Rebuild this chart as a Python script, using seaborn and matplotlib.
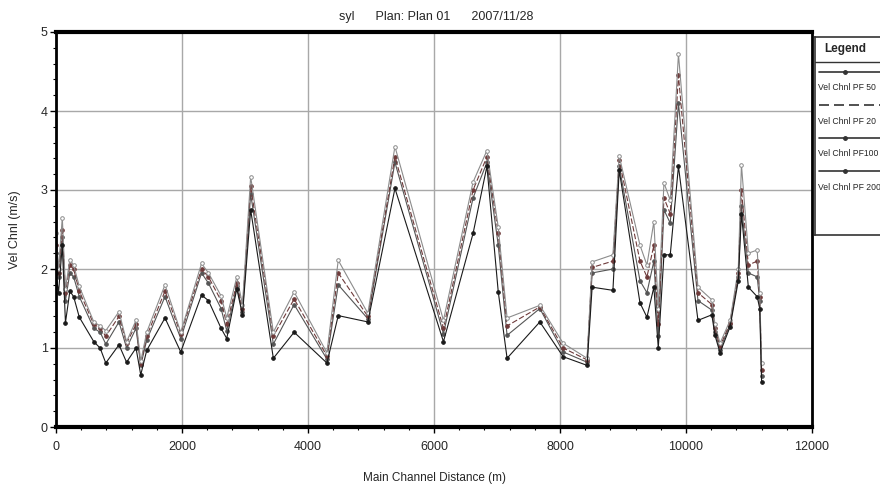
import numpy as np
import pandas as pd
import matplotlib
matplotlib.use("Agg")
import matplotlib.pyplot as plt
import seaborn as sns
from matplotlib.ticker import MultipleLocator

# ================================================================
stations = [0, 40, 100, 150, 220, 280, 370, 600, 700, 790, 1000, 1120, 1270, 1345,
            1440, 1730, 1980, 2310, 2420, 2620, 2710, 2870, 2960, 3090, 3450, 3780,
            4300, 4480, 4950, 5380, 6150, 6620, 6840, 7020, 7160, 7680, 8050, 8430,
            8510, 8840, 8940, 9270, 9380, 9490, 9560, 9650, 9750, 9880, 10190, 10410,
            10460, 10540, 10700, 10830, 10880, 10990, 11130, 11170, 11200]

vel_pf_top = [2.45, 2.00, 2.65, 1.75, 2.12, 2.05, 1.78, 1.33, 1.28, 1.22, 1.46, 1.08, 1.35, 0.83,
              1.20, 1.80, 1.20, 2.07, 1.95, 1.66, 1.38, 1.90, 1.55, 3.17, 1.20, 1.71,
              0.94, 2.11, 1.44, 3.55, 1.35, 3.10, 3.50, 2.53, 1.38, 1.54, 1.06, 0.87,
              2.09, 2.18, 3.43, 2.30, 2.05, 2.60, 1.50, 3.09, 2.87, 4.72, 1.77, 1.61,
              1.30, 1.06, 1.35, 2.00, 3.32, 2.20, 2.24, 1.70, 0.81]
vel_pf_dash = [2.30, 1.95, 2.50, 1.70, 2.05, 2.00, 1.72, 1.30, 1.25, 1.15, 1.40, 1.06, 1.30, 0.80,
               1.15, 1.72, 1.18, 2.00, 1.90, 1.60, 1.30, 1.82, 1.50, 3.05, 1.15, 1.62,
               0.90, 1.95, 1.40, 3.42, 1.25, 3.00, 3.42, 2.45, 1.28, 1.52, 1.00, 0.85,
               2.02, 2.10, 3.38, 2.10, 1.90, 2.30, 1.30, 2.90, 2.70, 4.45, 1.70, 1.55,
               1.25, 1.02, 1.32, 1.95, 3.00, 2.05, 2.10, 1.65, 0.72]
vel_pf_mid = [2.20, 1.90, 2.40, 1.60, 1.95, 1.90, 1.65, 1.25, 1.20, 1.05, 1.33, 1.00, 1.25, 0.78,
              1.10, 1.65, 1.12, 1.95, 1.82, 1.50, 1.22, 1.78, 1.45, 2.95, 1.05, 1.55,
              0.86, 1.80, 1.37, 3.35, 1.18, 2.90, 3.35, 2.30, 1.16, 1.50, 0.95, 0.82,
              1.95, 2.00, 3.30, 1.85, 1.70, 2.10, 1.15, 2.75, 2.58, 4.10, 1.60, 1.48,
              1.20, 0.98, 1.30, 1.90, 2.80, 1.95, 1.90, 1.60, 0.65]
vel_pf_low = [1.95, 1.70, 2.30, 1.32, 1.72, 1.65, 1.39, 1.08, 1.00, 0.81, 1.04, 0.82, 1.00, 0.66,
              0.97, 1.38, 0.95, 1.67, 1.60, 1.25, 1.12, 1.75, 1.42, 2.75, 0.87, 1.20,
              0.81, 1.41, 1.33, 3.02, 1.08, 2.45, 3.30, 1.71, 0.87, 1.33, 0.89, 0.78,
              1.77, 1.73, 3.25, 1.57, 1.39, 1.77, 1.00, 2.18, 2.18, 3.30, 1.35, 1.42,
              1.16, 0.94, 1.27, 1.85, 2.70, 1.77, 1.65, 1.50, 0.57]

labels = ["Vel Chnl PF 50", "Vel Chnl PF 20", "Vel Chnl PF100", "Vel Chnl PF 200"]
title = "syl      Plan: Plan 01      2007/11/28"
# ================================================================

sns.set_theme(style="white")
plt.rcParams["font.family"] = ["Liberation Sans Narrow", "Liberation Sans", "DejaVu Sans"]

fig = plt.figure(figsize=(8.8, 4.95), dpi=100)
ax = fig.add_axes([56 / 880, 68 / 495, 756 / 880, 395 / 495])

# series: values, colour, dash, marker face
series = [
    (vel_pf_mid, "#555555", "-", "#555555"),
    (vel_pf_dash, "#6e3a3a", (0, (5, 2)), "#6e3a3a"),
    (vel_pf_top, "#8c8c8c", "-", "white"),
    (vel_pf_low, "#1a1a1a", "-", "#1a1a1a"),
]
for vals, col, ls, mfc in series:
    sns.lineplot(ax=ax, x=stations, y=vals, color=col, linestyle=ls, lw=0.8,
                 marker="o", markersize=2.6, mfc=mfc, mec=col, mew=0.7, sort=False,
                 estimator=None)

ax.set_xlim(0, 12000)
ax.set_ylim(0, 5)
ax.xaxis.set_major_locator(MultipleLocator(2000))
ax.xaxis.set_minor_locator(MultipleLocator(400))
ax.yaxis.set_major_locator(MultipleLocator(1))
ax.yaxis.set_minor_locator(MultipleLocator(0.2))
ax.grid(True, which="major", color="#a8a8a8", lw=1.0)
ax.tick_params(axis="both", which="major", direction="out", length=4, width=1,
               labelsize=9, color="black", pad=2)
ax.tick_params(axis="both", which="minor", direction="out", length=2.5, width=0.8,
               color="black")
ax.tick_params(axis="x", bottom=True, pad=6)
ax.tick_params(axis="y", left=True)
ax.tick_params(axis="x", which="minor", bottom=True)
ax.tick_params(axis="y", which="minor", left=True)
for side in ["top", "bottom"]:
    ax.spines[side].set_linewidth(3)
for side in ["left", "right"]:
    ax.spines[side].set_linewidth(2)
for side in ax.spines.values():
    side.set_color("black")

ax.set_xlabel("Main Channel Distance (m)", fontsize=8.5, labelpad=14)
ax.set_ylabel("Vel Chnl (m/s)", fontsize=9, labelpad=14, family=["Liberation Sans", "DejaVu Sans"])
fig.text(436 / 880, 1 - 17 / 495, title, ha="center", va="center", fontsize=9)

# HEC-RAS style legend box at the right edge
lax = fig.add_axes([815 / 880, 1 - 235 / 495, 90 / 880, 198 / 495])
lax.set_xlim(0, 90)
lax.set_ylim(198, 0)
lax.set_xticks([])
lax.set_yticks([])
for sp in lax.spines.values():
    sp.set_linewidth(1.2)
    sp.set_color("#333333")
lax.axhline(25, color="#333333", lw=1)
lax.text(30, 12, "Legend", ha="center", va="center", fontsize=8.5, fontweight="bold")
styles = [("-", "#333333", True), ((0, (6, 3)), "#333333", False),
          ("-", "#333333", True), ("-", "#333333", True)]
for i, (lab, (ls, col, mk)) in enumerate(zip(labels, styles)):
    yl = 35 + i * 33
    lax.plot([4, 88], [yl, yl], ls=ls, color=col, lw=1.2)
    if mk:
        lax.plot([30], [yl], marker="o", ms=2.5, color=col)
    lax.text(3, yl + 16, lab, ha="left", va="center", fontsize=6.2)

plt.savefig("out.png", dpi=100)
